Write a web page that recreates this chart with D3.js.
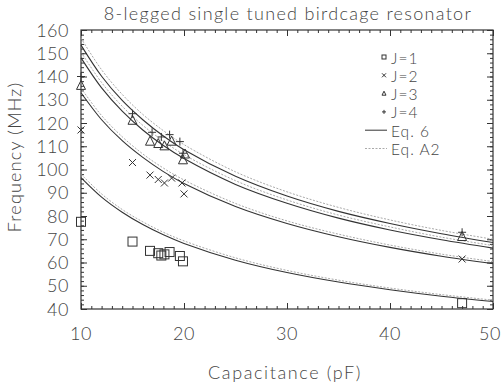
<!DOCTYPE html>
<html>
<head>
<meta charset="utf-8">
<script src="https://cdn.jsdelivr.net/npm/d3@7"></script>
<style>
body { margin: 0; background: #fff; }
text { font-family: Lato, "DejaVu Sans", sans-serif; font-weight: 300; fill: #444; }
</style>
</head>
<body>
<div id="chart"></div>
<script>
// measured points, [capacitance pF, frequency MHz]
var j1 = [[10,77.5],[15,69],[16.7,65],[17.5,64],[17.8,63],[18.1,63.5],[18.6,64.5],[19.6,62.8],[19.9,60.5],[47,42.5]]
var j2 = [[10,117],[15,103],[16.7,97.6],[17.5,95.7],[18.1,94.2],[18.8,96.3],[19.8,94.2],[20,89.5],[47,61.5]]
var j3 = [[10,136],[15,121],[16.7,112],[17.5,111],[18.1,110],[18.8,112],[19.9,104],[20.1,106.5],[47,71]]
var j4 = [[10,140],[15,124],[16.9,116],[17.8,114],[18.6,115],[19.6,112],[19.9,107],[47,73]]

var capGrid = [10, 12, 14, 16, 18, 20, 25, 30, 35, 40, 45, 50]
var eq6 = [
	[96.5, 88.1, 81.6, 76.3, 71.9, 68.2, 61.0, 55.7, 51.6, 48.3, 45.5, 43.2],
	[133, 121.4, 112.4, 105.2, 99.1, 94.0, 84.1, 76.8, 71.1, 66.5, 62.7, 59.5],
	[148, 135.1, 125.1, 117.0, 110.3, 104.7, 93.6, 85.5, 79.1, 74.0, 69.8, 66.2],
	[153.5, 140.1, 129.7, 121.4, 114.4, 108.5, 97.1, 88.6, 82.0, 76.8, 72.4, 68.6]
]
var eqA2 = [
	[98, 89.5, 82.8, 77.5, 73.0, 69.3, 62.0, 56.6, 52.4, 49.0, 46.2, 43.8],
	[135, 123.2, 114.1, 106.7, 100.6, 95.5, 85.4, 77.9, 72.2, 67.5, 63.6, 60.4],
	[150.5, 137.4, 127.2, 119.0, 112.2, 106.4, 95.2, 86.9, 80.4, 75.3, 70.9, 67.3],
	[156.5, 142.9, 132.3, 123.7, 116.7, 110.7, 99.0, 90.4, 83.7, 78.3, 73.8, 70.0]
]
var xTicks = [10, 20, 30, 40, 50]
var yTicks = [40, 50, 60, 70, 80, 90, 100, 110, 120, 130, 140, 150, 160]
var legendLabels = ["J=1", "J=2", "J=3", "J=4", "Eq. 6", "Eq. A2"]

var width = 502, height = 387
var margin = {left: 81, right: 9, top: 30, bottom: 78}

var svg = d3.select("#chart").append("svg")
	.attr("width", width)
	.attr("height", height)

var x = d3.scaleLinear().domain([10, 50]).range([margin.left, width - margin.right])
var y = d3.scaleLinear().domain([40, 160]).range([height - margin.bottom, margin.top])

var ink = "#333"

// frame
svg.append("rect")
	.attr("x", x(10)).attr("y", y(160))
	.attr("width", x(50) - x(10)).attr("height", y(40) - y(160))
	.attr("fill", "none").attr("stroke", ink).attr("stroke-width", 1.2)

// ticks pointing inward, on all four sides
function tickSet(axisFn, scale, vals, size) {
	return axisFn(scale).tickValues(vals).tickSize(size).tickFormat("")
}
var xMinor = d3.range(10, 51, 1), yMinor = d3.range(40, 161, 2)
var axes = [
	[d3.axisTop, x, "translate(0," + y(40) + ")"],
	[d3.axisBottom, x, "translate(0," + y(160) + ")"],
	[d3.axisRight, y, "translate(" + x(10) + ",0)"],
	[d3.axisLeft, y, "translate(" + x(50) + ",0)"]
]
axes.forEach(function(a) {
	var isX = a[1] === x
	var g1 = svg.append("g").attr("transform", a[2]).call(tickSet(a[0], a[1], isX ? xMinor : yMinor, 3))
	var g2 = svg.append("g").attr("transform", a[2]).call(tickSet(a[0], a[1], isX ? xTicks : yTicks, 6))
	;[g1, g2].forEach(function(g) {
		g.select(".domain").remove()
		g.selectAll("line").attr("stroke", ink)
	})
})

// tick labels (the last one is kept just inside the page edge)
svg.selectAll(".xlab").data(xTicks).enter().append("text")
	.attr("x", function(d) { return Math.min(x(d), width - 12) })
	.attr("y", y(40) + 31)
	.attr("text-anchor", "middle")
	.attr("font-size", "18px")
	.attr("letter-spacing", "0.5px")
	.text(function(d) { return d })

svg.selectAll(".ylab").data(yTicks).enter().append("text")
	.attr("x", x(10) - 12)
	.attr("y", function(d) { return y(d) + 6.5 })
	.attr("text-anchor", "end")
	.attr("font-size", "18px")
	.attr("letter-spacing", "0.5px")
	.text(function(d) { return d })

svg.append("text")
	.attr("x", 285).attr("y", 379)
	.attr("text-anchor", "middle")
	.attr("font-size", "18px")
	.attr("letter-spacing", "1.6px")
	.text("Capacitance (pF)")

svg.append("text")
	.attr("transform", "translate(21,157) rotate(-90)")
	.attr("text-anchor", "middle")
	.attr("font-size", "18px")
	.attr("letter-spacing", "1.2px")
	.text("Frequency (MHz)")

svg.append("text")
	.attr("x", 288).attr("y", 20)
	.attr("text-anchor", "middle")
	.attr("font-size", "18px")
	.attr("letter-spacing", "1.3px")
	.text("8-legged single tuned birdcage resonator")

// curves
var line = d3.line()
	.x(function(d, i) { return x(capGrid[i]) })
	.y(function(d) { return y(d) })
	.curve(d3.curveCatmullRom)

svg.selectAll(".a2").data(eqA2).enter().append("path")
	.attr("d", line)
	.attr("fill", "none")
	.attr("stroke", "#aaa")
	.attr("stroke-width", 1)
	.attr("stroke-dasharray", "2,1.5")

svg.selectAll(".eq6").data(eq6).enter().append("path")
	.attr("d", line)
	.attr("fill", "none")
	.attr("stroke", ink)
	.attr("stroke-width", 1.1)

// markers
function drawMarker(g, kind, s) {
	if (kind == 0) {
		g.append("rect").attr("x", -s).attr("y", -s).attr("width", 2 * s).attr("height", 2 * s)
	} else if (kind == 1) {
		g.append("path").attr("d", "M" + (-s) + "," + (-s) + "L" + s + "," + s + "M" + (-s) + "," + s + "L" + s + "," + (-s))
	} else if (kind == 2) {
		g.append("path").attr("d", "M0," + (-s * 1.2) + "L" + s + "," + (s * 0.8) + "L" + (-s) + "," + (s * 0.8) + "Z")
	} else {
		g.append("path").attr("d", "M" + (-s) + ",0L" + s + ",0M0," + (-s) + "L0," + s)
	}
	g.selectAll("rect,path").attr("fill", "none").attr("stroke", ink).attr("stroke-width", 1)
}

var sizes = [4.5, 3.5, 4.5, 4]
;[j1, j2, j3, j4].forEach(function(series, k) {
	svg.append("g").selectAll("g").data(series).enter().append("g")
		.attr("transform", function(d) { return "translate(" + x(d[0]) + "," + y(d[1]) + ")" })
		.each(function() { drawMarker(d3.select(this), k, sizes[k]) })
})

// legend
var legend = svg.append("g")
legendLabels.forEach(function(lab, i) {
	var ly = 58 + i * 18.3
	if (i < 4) {
		var m = legend.append("g").attr("transform", "translate(384," + (ly - 1) + ")")
		drawMarker(m, i, 2)
	} else {
		legend.append("line")
			.attr("x1", 365).attr("x2", 387)
			.attr("y1", ly - 1).attr("y2", ly - 1)
			.attr("stroke", i == 4 ? ink : "#aaa")
			.attr("stroke-dasharray", i == 4 ? null : "2,1.5")
	}
	legend.append("text")
		.attr("x", 391).attr("y", ly + 5.5)
		.attr("font-size", "15.5px")
		.attr("letter-spacing", "1px")
		.text(lab)
})
</script>
</body>
</html>
